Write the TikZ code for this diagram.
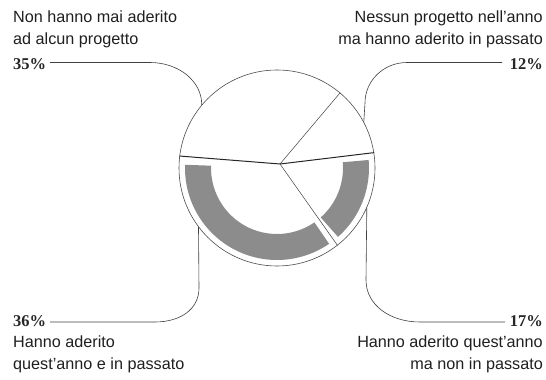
\documentclass[tikz,border=0pt]{standalone}
\usepackage{fontspec}
\setmainfont{Liberation Serif}
\newfontfamily\lblfont{Liberation Sans}
\usetikzlibrary{calc}
\begin{document}
\begin{tikzpicture}[x=1pt,y=1pt,
  lbl/.style={font=\lblfont\fontsize{16.2}{20}\selectfont, inner sep=0pt, text=black!88},
  pct/.style={font=\rmfamily\bfseries\fontsize{16.5}{20}\selectfont, inner sep=0pt, text=black!85},
  conn/.style={line width=0.6pt, draw=black!75},
  rim/.style={line width=0.6pt, draw=black!70},
  divider/.style={line width=0.5pt, draw=black!75},
  mainline/.style={line width=1pt, draw=black!85},
  band/.style={fill=black!45}]
\useasboundingbox (0,0) rectangle (546,380);
\coordinate (C) at (277,212);
\coordinate (P) at (280,216);
% shaded band
\fill[band] ($(C)+(178:92)$) arc[start angle=178,end angle=304.5,radius=92]
  -- ($(C)+(304.5:66)$) arc[start angle=304.5,end angle=178,radius=66] -- cycle;
\fill[band] ($(C)+(-48.5:92)$) arc[start angle=-48.5,end angle=5,radius=92]
  -- ($(C)+(5:66)$) arc[start angle=5,end angle=-48.5,radius=66] -- cycle;
% pie
\node[circle, rim, minimum size=196pt, inner sep=0pt] (pie) at (C) {};
\draw[mainline] (P) -- (pie.173.6);
\draw[mainline] (P) -- (pie.9.3);
\draw[divider] (P) -- (pie.50.1);
\draw[divider] (P) -- (pie.-52.3);
% labels
\node[lbl, anchor=base west] (tl1) at (13,357) {Non hanno mai aderito};
\node[lbl, anchor=base west] (tl2) at (13,335) {ad alcun progetto};
\node[pct, anchor=base west] (p35) at (13,310) {35\%};
\node[lbl, anchor=base east] (tr1) at (543,357) {Nessun progetto nell’anno};
\node[lbl, anchor=base east] (tr2) at (543,335) {ma hanno aderito in passato};
\node[pct, anchor=base east] (p12) at (543,310) {12\%};
\node[pct, anchor=base west] (p36) at (13,53) {36\%};
\node[lbl, anchor=base west] (bl1) at (13,32) {Hanno aderito};
\node[lbl, anchor=base west] (bl2) at (13,10) {quest’anno e in passato};
\node[pct, anchor=base east] (p17) at (543,53) {17\%};
\node[lbl, anchor=base east] (br1) at (543,32) {Hanno aderito quest’anno};
\node[lbl, anchor=base east] (br2) at (543,10) {ma non in passato};
% connectors
\coordinate (tlS) at (50,317.5);
\coordinate (trS) at (502,317.5);
\coordinate (blS) at (50,58);
\coordinate (brS) at (505,58);
\draw[conn] (tlS) -- (150,317.5) .. controls (178.7,317.5) and (202,298.7) .. (pie.140);
\draw[conn] (trS) -- (407,317.5) .. controls (383.8,317.5) and (365,299.6) .. (365,277) -- (pie.28);
\draw[conn] (blS) -- (155,58) .. controls (179.3,58) and (199,70) .. (199,92) -- (pie.217);
\draw[conn] (brS) -- (420,58) .. controls (390,58) and (366,75) .. (366,100) -- (pie.-24);
\end{tikzpicture}
\end{document}
